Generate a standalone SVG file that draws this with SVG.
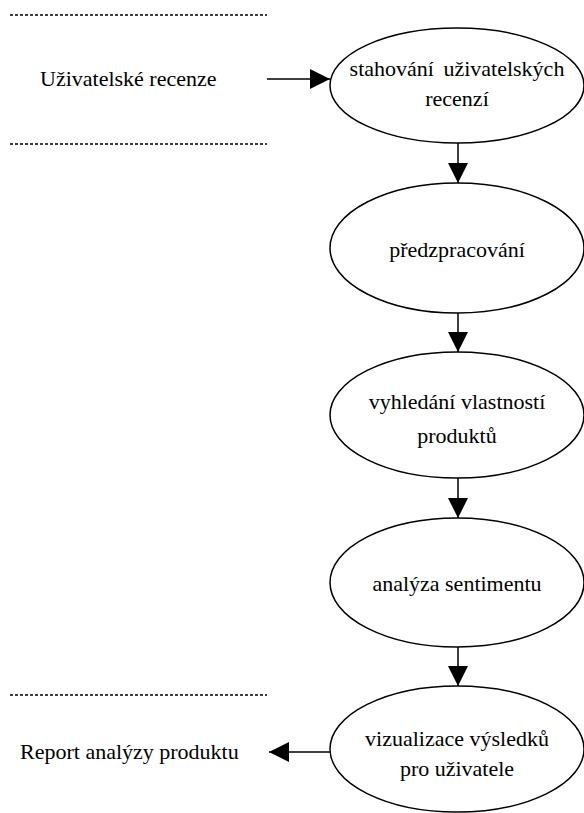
<svg xmlns="http://www.w3.org/2000/svg" width="584" height="813" viewBox="0 0 584 813" font-family="'Liberation Serif', 'Times New Roman', 'DejaVu Serif', serif">
<style>
text{font-family:'Liberation Serif','Times New Roman','DejaVu Serif',serif;font-size:22px;fill:#000}
.n ellipse{fill:#fff;stroke:#000;stroke-width:1.5}
.sep{stroke:#000;stroke-width:1.3;stroke-dasharray:3 2}
.c line{stroke:#000;stroke-width:1.5}
</style>
<defs>
<marker id="ah" markerUnits="userSpaceOnUse" markerWidth="20" markerHeight="20" viewBox="0 0 18 18" refX="18" refY="9" orient="auto">
<path d="M0,0L18,9L0,18Z" fill="#000"/>
</marker>
</defs>
<g id="separators">
<line class="sep" x1="10" y1="15" x2="267" y2="15"/>
<line class="sep" x1="10" y1="144" x2="267" y2="144"/>
<line class="sep" x1="10" y1="695" x2="267" y2="695"/>
</g>
<g id="input"><text x="40" y="86">Uživatelské recenze</text></g>
<g id="output"><text x="20" y="759">Report analýzy produktu</text></g>
<g id="n1" class="n"><ellipse cx="457" cy="85.5" rx="127" ry="57.5"/>
<text x="457" y="76" text-anchor="middle" word-spacing="4">stahování uživatelských</text>
<text x="457" y="106" text-anchor="middle">recenzí</text></g>
<g id="n2" class="n"><ellipse cx="457" cy="248" rx="127" ry="65"/>
<text x="457" y="257" text-anchor="middle">předzpracování</text></g>
<g id="n3" class="n"><ellipse cx="457" cy="415" rx="127" ry="63"/>
<text x="457" y="409" text-anchor="middle">vyhledání vlastností</text>
<text x="457" y="443" text-anchor="middle">produktů</text></g>
<g id="n4" class="n"><ellipse cx="457" cy="582.5" rx="127" ry="64.5"/>
<text x="457" y="591" text-anchor="middle">analýza sentimentu</text></g>
<g id="n5" class="n"><ellipse cx="457" cy="749" rx="127" ry="63"/>
<text x="457" y="746" text-anchor="middle">vizualizace výsledků</text>
<text x="457" y="776" text-anchor="middle">pro uživatele</text></g>
<g id="connectors" class="c">
<line x1="267" y1="79" x2="330" y2="79" marker-end="url(#ah)"/>
<line x1="458" y1="143" x2="458" y2="183" marker-end="url(#ah)"/>
<line x1="458" y1="313" x2="458" y2="352" marker-end="url(#ah)"/>
<line x1="458" y1="478" x2="458" y2="518" marker-end="url(#ah)"/>
<line x1="458" y1="647" x2="458" y2="686" marker-end="url(#ah)"/>
<line x1="330" y1="752" x2="269" y2="752" marker-end="url(#ah)"/>
</g>
</svg>
